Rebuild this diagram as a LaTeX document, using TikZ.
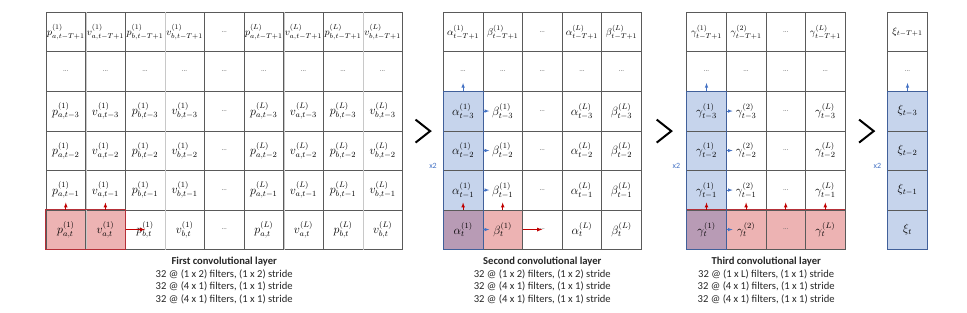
\documentclass[tikz,border=0pt]{standalone}
\usepackage{fontspec}
\setmainfont{Carlito}
\usepackage{xcolor}
\usetikzlibrary{arrows, calc, positioning, backgrounds, math}

\definecolor{bluefill}{HTML}{C6D4EC}
\definecolor{redfill}{HTML}{EDB3B3}
\definecolor{mixfill}{HTML}{B89BB5}
\definecolor{blueline}{HTML}{41609A}
\definecolor{redline}{HTML}{B53038}
\definecolor{bluearrow}{HTML}{4472C4}
\definecolor{redarrow}{HTML}{C00000}
\definecolor{gridline}{HTML}{5A5A5A}
\definecolor{softline}{HTML}{C8C8C8}
\definecolor{captext}{HTML}{262626}

\tikzset{
  cell/.style={draw=gridline, line width=0.6pt, minimum width=39.6pt, minimum height=39.5pt, inner sep=0pt, font=\fontsize{12}{14}\selectfont},
  topcell/.style={cell, font=\fontsize{10}{12}\selectfont},
  dotcell/.style={cell, font=\fontsize{7}{8}\selectfont, text=black!60},
  uparrow/.style={-latex, redarrow, line width=0.7pt},
  rightarrow/.style={-latex, redarrow, line width=0.8pt},
  bluearr/.style={-latex, bluearrow, line width=0.6pt},
  chevron/.style={line width=2pt, miter limit=10},
  caption/.style={align=center, inner sep=0pt, text=captext, font=\fontsize{10.6}{12.6}\selectfont},
  xtwo/.style={inner sep=0pt, text=bluearrow, font=\fontsize{8}{9}\selectfont}
}

\begin{document}
\begin{tikzpicture}[x=1pt, y=-1pt]
\tikzmath{
\w=39.6;
\h=39.5;
\ytop=12.3;
\xa=46;
\xb=443.3;
\xc=686.7;
\xd=887.7;
}
\useasboundingbox (0,0) rectangle (967,313);

% first layer: prices and volumes
\foreach \row/\ts/\st in {1/{t-T+1}/topcell, 3/{t-3}/cell, 4/{t-2}/cell, 5/{t-1}/cell, 6/t/cell}{
  \foreach \col/\sym/\s/\k in {1/p/a/1, 2/v/a/1, 3/p/b/1, 4/v/b/1, 6/p/a/L, 7/v/a/L, 8/p/b/L, 9/v/b/L}
    \node[\st] (A-\row-\col) at (\xa+\col*\w-\w/2, \ytop+\row*\h-\h/2) {$\sym^{(\k)}_{\s,\ts}$};
  \node[dotcell] (A-\row-5) at (\xa+4.5*\w, \ytop+\row*\h-\h/2) {...};
}
\foreach \col in {1,...,9}
  \node[dotcell] (A-2-\col) at (\xa+\col*\w-\w/2, \ytop+1.5*\h) {...};

% second layer
\foreach \row/\ts/\st in {1/{t-T+1}/topcell, 3/{t-3}/cell, 4/{t-2}/cell, 5/{t-1}/cell, 6/t/cell}{
  \foreach \col/\sym/\k in {1/\alpha/1, 2/\beta/1, 4/\alpha/L, 5/\beta/L}
    \node[\st] (B-\row-\col) at (\xb+\col*\w-\w/2, \ytop+\row*\h-\h/2) {$\sym^{(\k)}_{\ts}$};
  \node[dotcell] (B-\row-3) at (\xb+2.5*\w, \ytop+\row*\h-\h/2) {...};
}
\foreach \col in {1,...,5}
  \node[dotcell] (B-2-\col) at (\xb+\col*\w-\w/2, \ytop+1.5*\h) {...};

% third layer
\foreach \row/\ts/\st in {1/{t-T+1}/topcell, 3/{t-3}/cell, 4/{t-2}/cell, 5/{t-1}/cell, 6/t/cell}{
  \foreach \col/\k in {1/1, 2/2, 4/L}
    \node[\st] (C-\row-\col) at (\xc+\col*\w-\w/2, \ytop+\row*\h-\h/2) {$\gamma^{(\k)}_{\ts}$};
  \node[dotcell] (C-\row-3) at (\xc+2.5*\w, \ytop+\row*\h-\h/2) {...};
}
\foreach \col in {1,...,4}
  \node[dotcell] (C-2-\col) at (\xc+\col*\w-\w/2, \ytop+1.5*\h) {...};

% output column
\foreach \row/\ts/\st in {1/{t-T+1}/topcell, 3/{t-3}/cell, 4/{t-2}/cell, 5/{t-1}/cell, 6/t/cell}
  \node[\st] (D-\row-1) at (\xd+\w/2, \ytop+\row*\h-\h/2) {$\xi_{\ts}$};
\node[dotcell] (D-2-1) at (\xd+\w/2, \ytop+1.5*\h) {...};

\begin{scope}[on background layer]
\fill[redfill] (A-6-1.north west) rectangle (A-6-2.south east);
\fill[bluefill] (B-3-1.north west) rectangle (B-5-1.south east);
\fill[mixfill] (B-6-1.north west) rectangle (B-6-1.south east);
\fill[redfill] (B-6-2.north west) rectangle (B-6-2.south east);
\fill[bluefill] (C-3-1.north west) rectangle (C-5-1.south east);
\fill[mixfill] (C-6-1.north west) rectangle (C-6-1.south east);
\fill[redfill] (C-6-2.north west) rectangle (C-6-4.south east);
\fill[bluefill] (D-3-1.north west) rectangle (D-6-1.south east);
\end{scope}

\foreach \col in {1,3,6,8}
  \draw[softline, line width=0.6pt] (A-1-\col.north east) -- (A-6-\col.south east);

\draw[redline, line width=0.8pt] (A-6-1.north west) rectangle (A-6-2.south east);
\draw[blueline, line width=0.8pt] (B-3-1.north west) rectangle (B-6-1.south east);
\draw[redline, line width=0.8pt] (C-6-1.north west) -- (C-6-4.north east);
\draw[blueline, line width=0.8pt] (C-3-1.north west) rectangle (C-6-1.south east);
\draw[blueline, line width=0.8pt] (D-3-1.north west) rectangle (D-6-1.south east);

% filter moves
\foreach \col in {1,2}{
  \draw[uparrow] (A-6-\col.north) -- ++(0,-7);
  \draw[uparrow] (B-6-\col.north) -- ++(0,-7);
}
\foreach \col in {1,...,4}
  \draw[uparrow] (C-6-\col.north) -- ++(0,-7);
\draw[rightarrow] (A-6-2.east) -- (A-6-3.center);
\draw[rightarrow] (B-6-2.east) -- (B-6-3.center);

\foreach \row in {3,...,6}{
  \draw[bluearr] (B-\row-1.east) -- ++(6,0);
  \draw[bluearr] (C-\row-1.east) -- ++(6,0);
}
\draw[bluearr] (B-3-1.north) -- ++(0,-8);
\draw[bluearr] (C-3-1.north) -- ++(0,-8);
\draw[bluearr] (D-3-1.north) -- ++(0,-8);

\node[xtwo, left=6pt of B-4-1.south west, yshift=5pt] (B-x2) {x2};
\node[xtwo, left=6pt of C-4-1.south west, yshift=5pt] (C-x2) {x2};
\node[xtwo, left=6pt of D-4-1.south west, yshift=5pt] (D-x2) {x2};

% chevrons between the layers
\coordinate (chev1) at ($(A-3-9.south east)!0.5!(B-3-1.south west)$);
\coordinate (chev2) at ($(B-3-5.south east)!0.5!(C-3-1.south west)$);
\coordinate (chev3) at ($(C-3-4.south east)!0.5!(D-3-1.south west)$);
\foreach \p in {chev1, chev2, chev3}
  \draw[chevron] ($(\p)+(-7.3,-11.5)$) -- ($(\p)+(7.3,0)$) -- ($(\p)+(-7.3,11.5)$);

\node[caption, below=7.5pt of A-6-5.south] (A-cap) {\textbf{First convolutional layer}\\32 @ (1 x 2) filters, (1 x 2) stride\\32 @ (4 x 1) filters, (1 x 1) stride\\32 @ (4 x 1) filters, (1 x 1) stride};
\node[caption, below=7.5pt of B-6-3.south] (B-cap) {\textbf{Second convolutional layer}\\32 @ (1 x 2) filters, (1 x 2) stride\\32 @ (4 x 1) filters, (1 x 1) stride\\32 @ (4 x 1) filters, (1 x 1) stride};
\node[caption, below=7.5pt of C-6-2.south east] (C-cap) {\textbf{Third convolutional layer}\\32 @ (1 x L) filters, (1 x 1) stride\\32 @ (4 x 1) filters, (1 x 1) stride\\32 @ (4 x 1) filters, (1 x 1) stride};
\end{tikzpicture}
\end{document}
